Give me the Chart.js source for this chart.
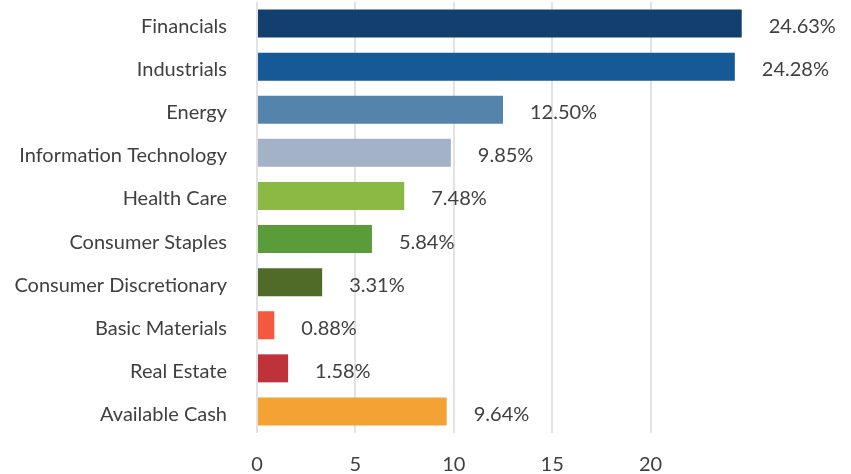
<!DOCTYPE html>
<html>
<head>
<meta charset="utf-8">
<script src="https://cdn.jsdelivr.net/npm/chart.js@4.4.1/dist/chart.umd.min.js"></script>
<style>
  html, body { margin: 0; padding: 0; background: #ffffff; }
</style>
</head>
<body>
<canvas id="c" width="851" height="474"></canvas>
<script>
const categories = ["Financials", "Industrials", "Energy", "Information Technology", "Health Care",
  "Consumer Staples", "Consumer Discretionary", "Basic Materials", "Real Estate", "Available Cash"];
const weights = [24.63, 24.28, 12.50, 9.85, 7.48, 5.84, 3.31, 0.88, 1.58, 9.64];
const barColors = ["#123f6e", "#155a96", "#5484ab", "#a3b2c6", "#8aba44",
  "#5a9b3a", "#4f6b27", "#f4583e", "#bd3339", "#f5a235"];
const tickValues = [0, 5, 10, 15, 20];

const textColor = "#404040";
const fontFamily = "Lato, 'Open Sans', sans-serif";

const valueLabels = {
  id: "valueLabels",
  afterDatasetsDraw(chart) {
    const ctx = chart.ctx;
    const meta = chart.getDatasetMeta(0);
    ctx.save();
    ctx.font = "20px " + fontFamily;
    ctx.fillStyle = textColor;
    ctx.textAlign = "left";
    ctx.textBaseline = "middle";
    meta.data.forEach((bar, i) => {
      ctx.fillText(weights[i].toFixed(2) + "%", bar.x + 27, bar.y + 3);
    });
    ctx.restore();
  }
};

new Chart(document.getElementById("c"), {
  type: "bar",
  data: {
    labels: categories,
    datasets: [{
      data: weights,
      backgroundColor: barColors,
      borderWidth: 0,
      barPercentage: 0.65,
      categoryPercentage: 1.0
    }]
  },
  options: {
    indexAxis: "y",
    responsive: false,
    animation: false,
    layout: { padding: { top: 2, right: 102, bottom: 0, left: 0 } },
    plugins: { legend: { display: false }, tooltip: { enabled: false } },
    scales: {
      x: {
        min: 0,
        max: 25,
        afterBuildTicks(scale) {
          scale.ticks = tickValues.map(v => ({ value: v }));
        },
        afterFit(scale) {
          scale.height = 41;
          scale.paddingLeft = 0;
          scale.paddingRight = 0;
        },
        grid: { color: "#e2e2e2", lineWidth: 2, drawTicks: false },
        border: { display: false },
        ticks: {
          color: textColor,
          font: { family: fontFamily, size: 20, lineHeight: 1 },
          padding: 22,
          maxRotation: 0
        }
      },
      y: {
        afterFit(scale) {
          scale.width = 257;
          scale.paddingTop = 0;
          scale.paddingBottom = 0;
        },
        grid: { display: false, drawTicks: false },
        border: { display: false },
        ticks: {
          color: textColor,
          font: { family: fontFamily, size: 20 },
          padding: 30,
          labelOffset: 3
        }
      }
    }
  },
  plugins: [valueLabels]
});
</script>
</body>
</html>
